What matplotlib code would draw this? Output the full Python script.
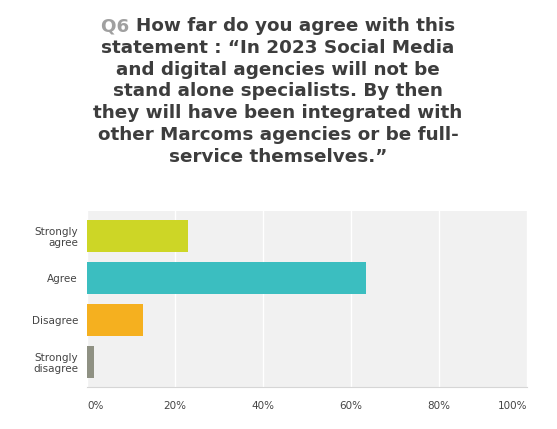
import numpy as np
import matplotlib.pyplot as plt

categories = ["Strongly\nagree", "Agree", "Disagree", "Strongly\ndisagree"]
values = [23.0, 63.3, 12.8, 1.5]
bar_colors = ["#cdd626", "#3bbec0", "#f5b01f", "#8f9183"]
xticks = [0, 20, 40, 60, 80, 100]
xtick_labels = ["0%", "20%", "40%", "60%", "80%", "100%"]

title_q = "Q6 "
title_lines = [
    "How far do you agree with this",
    "statement : \u201cIn 2023 Social Media",
    "and digital agencies will not be",
    "stand alone specialists. By then",
    "they will have been integrated with",
    "other Marcoms agencies or be full-",
    "service themselves.\u201d",
]

fig = plt.figure(figsize=(5.57, 4.29), dpi=100)
ax = fig.add_axes([87 / 557, 1 - 387 / 429, 440 / 557, 176 / 429])

ypos = np.arange(len(categories))
ax.barh(ypos, values, height=0.78, color=bar_colors, zorder=3)
ax.set_xlim(0, 100)
ax.set_ylim(len(categories) - 0.4, -0.6)
ax.set_facecolor("#f1f1f1")
ax.set_xticks(xticks)
ax.set_xticklabels(xtick_labels)
ax.set_yticks(ypos)
ax.set_yticklabels(categories, linespacing=1.1)
ax.grid(axis="x", color="white", linewidth=1.0, zorder=1)
for s in ["top", "right", "left"]:
    ax.spines[s].set_visible(False)
ax.spines["bottom"].set_color("#d6d6d6")
ax.tick_params(axis="both", length=0, labelsize=7.5, labelcolor="#444444")
ax.tick_params(axis="x", pad=10)
ax.tick_params(axis="y", pad=6.5)
tl = ax.get_xticklabels()
tl[0].set_ha("left")
tl[-1].set_ha("right")

# title, first line has grey question number
fs = 13.2
pitch = 21.8
cx = 278 / 557
fig.canvas.draw()
r = fig.canvas.get_renderer()
t_q = fig.text(0, 0, title_q, fontsize=fs, fontweight="bold", color="#a0a0a0")
t_1 = fig.text(0, 0, title_lines[0], fontsize=fs, fontweight="bold", color="#3d3d3d")
wq = t_q.get_window_extent(r).width
w1 = t_1.get_window_extent(r).width
x0 = cx * 557 - (wq + w1) / 2
y0 = 1 - 31 / 429
t_q.set_position((x0 / 557, y0))
t_1.set_position(((x0 + wq) / 557, y0))
for i, line in enumerate(title_lines[1:], start=1):
    fig.text(cx, 1 - (31 + i * pitch) / 429, line, fontsize=fs, fontweight="bold",
             color="#3d3d3d", ha="center", va="baseline")
t_q.set_va("baseline")
t_1.set_va("baseline")

fig.savefig("out.png", dpi=100)
